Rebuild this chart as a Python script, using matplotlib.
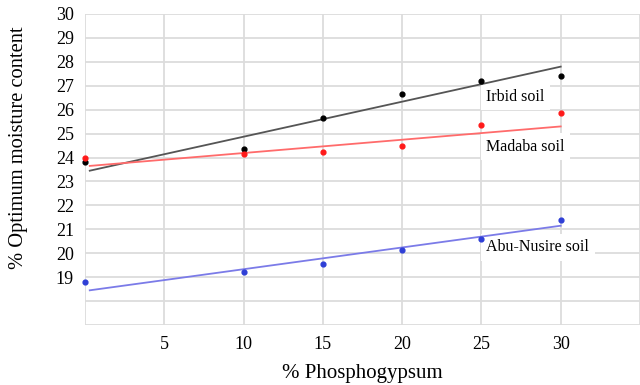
import matplotlib

matplotlib.use("Agg")
import matplotlib.pyplot as plt
import numpy as np

# % phosphogypsum
pg = [0, 10, 15, 20, 25, 30]

# optimum moisture content (%)
irbid = [23.8, 24.35, 25.65, 26.65, 27.2, 27.4]
madaba = [24.0, 24.15, 24.25, 24.5, 25.35, 25.85]
abu_nusire = [18.8, 19.2, 19.55, 20.15, 20.6, 21.4]

# trendline end values (at 0 % and 30 %)
trend_x = [0.3, 30]
irbid_trend = [23.45, 27.8]
madaba_trend = [23.65, 25.3]
abu_trend = [18.45, 21.15]

x_ticks = [0, 5, 10, 15, 20, 25, 30, 35]
x_labels = ["", "5", "10", "15", "20", "25", "30", ""]
y_ticks = list(range(17, 31))
y_labels = ["", ""] + [str(v) for v in range(19, 31)]

plt.rcParams["font.family"] = ["Liberation Serif", "DejaVu Serif"]

fig = plt.figure(figsize=(6.4, 3.85), dpi=100)
ax = fig.add_axes([85 / 640, 60 / 385, 555 / 640, 311 / 385])

series = [
    (irbid, irbid_trend, "black", "#555555", "Irbid soil", 26.55),
    (madaba, madaba_trend, "#ff1a1a", "#ff6b6b", "Madaba soil", 24.45),
    (abu_nusire, abu_trend, "#2f3fd6", "#7b7be8", "Abu-Nusire soil", 20.25),
]

for vals, trend, pc, lc, name, ty in series:
    ax.plot(trend_x, trend, color=lc, lw=1.3, zorder=3)
    ax.scatter(pg, vals, s=12, color=pc, zorder=4, clip_on=False)
    ax.text(25.3, ty, name, fontsize=11.5, va="center", ha="left", zorder=2,
            bbox=dict(facecolor="white", edgecolor="none", pad=4))

ax.set_xlim(0, 35)
ax.set_ylim(17, 30)
ax.set_xticks(x_ticks)
ax.set_xticklabels(x_labels, fontsize=13)
ax.set_yticks(y_ticks)
ax.set_yticklabels(y_labels, fontsize=13)
ax.tick_params(length=0, pad=8)
ax.grid(True, color="#dcdcdc", lw=1.3, zorder=0)
ax.set_axisbelow(True)
for s in ax.spines.values():
    s.set_visible(False)

ax.set_xlabel("% Phosphogypsum", fontsize=15, labelpad=8)
ax.set_ylabel("% Optimum moisture content", fontsize=14.8)
ax.yaxis.set_label_coords(-0.102, 0.57)

fig.savefig("out.png", dpi=100)
